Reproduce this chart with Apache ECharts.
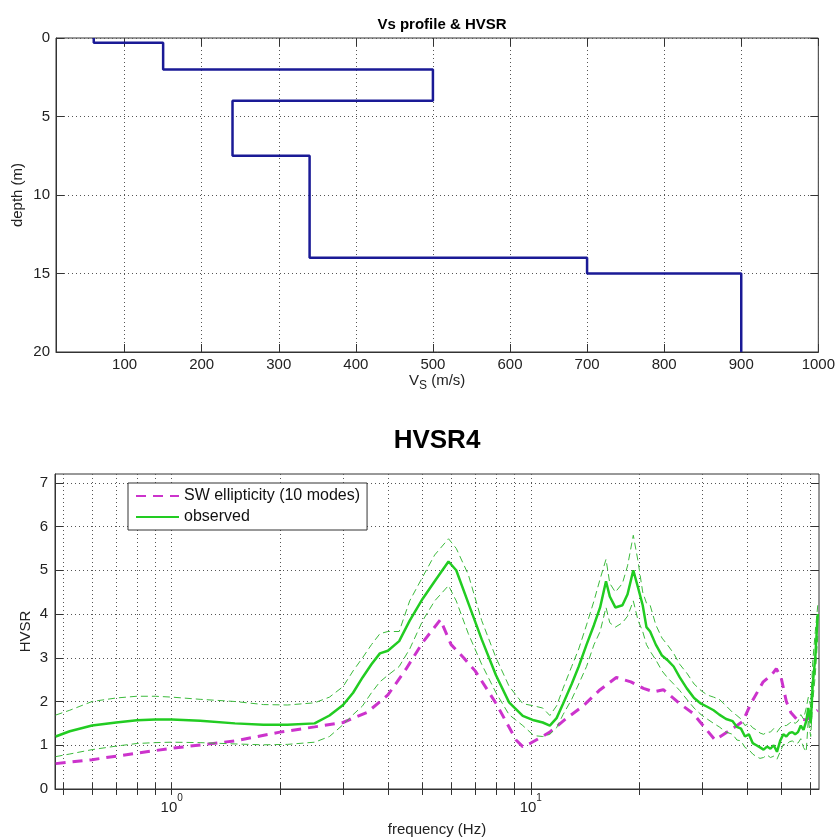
<!DOCTYPE html>
<html>
<head>
<meta charset="utf-8">
<title>Vs profile & HVSR</title>
<script src="https://cdn.jsdelivr.net/npm/echarts@6/dist/echarts.min.js"></script>
<style>
    html, body { margin: 0; padding: 0; background: #fff; }
    #main { width: 838px; height: 839px; }
</style>
</head>
<body>
<div id="main"></div>
<script>
// 速度剖面：每层的Vs和层顶深度
const vsLayers = [60, 150, 500, 240, 340, 700, 900];
const layerTops = [0, 0.3, 2, 4, 7.5, 14, 15];
const maxDepth = 20;
const vsTicks = [100, 200, 300, 400, 500, 600, 700, 800, 900, 1000];
const depthTicks = [0, 5, 10, 15, 20];

// 理论椭圆率 (SW ellipticity)
const ellipFreq = [0.475, 0.6, 0.8, 1.0, 1.5, 2.0, 2.5, 3.0, 3.5, 4.0, 4.5, 5.0, 5.6, 6.0, 6.5, 7.0, 8.0, 9.1, 9.5, 10.0,
    11.3, 12.5, 14.0, 15.5, 17.3, 19.0, 20.6, 22.0, 23.4, 26.0, 28.3, 32.6, 36.0, 39.0, 41.0, 44.4, 47.0, 48.3, 49.8,
    51.5, 53.0, 55.0, 58.6, 63.0];
const ellipHvsr = [0.58, 0.67, 0.82, 0.93, 1.1, 1.3, 1.42, 1.52, 1.75, 2.15, 2.75, 3.35, 3.87, 3.3, 3.0, 2.7, 1.96, 1.12, 0.97, 1.05,
    1.3, 1.6, 1.9, 2.25, 2.55, 2.45, 2.3, 2.22, 2.27, 1.95, 1.73, 1.12, 1.35, 1.55, 1.95, 2.45, 2.62, 2.75, 2.55,
    2.0, 1.75, 1.6, 1.58, 1.8];

// 实测HVSR：平均值及上下包络
const obsFreq = [0.475, 0.52, 0.6, 0.7, 0.8, 0.9, 1.0, 1.2, 1.5, 1.8, 2.1, 2.5, 2.75, 3.0, 3.2, 3.4, 3.6, 3.8, 4.0, 4.3,
    4.6, 5.0, 5.4, 5.9, 6.2, 6.7, 7.3, 8.0, 8.7, 9.5, 10.2, 10.8, 11.3, 11.8, 12.3, 13.0, 13.6, 14.3, 15.0, 15.6,
    16.2, 16.6, 17.2, 18.0, 18.6, 19.3, 19.9, 20.5, 21.0, 21.5, 22.3, 23.2, 24.0, 25.0, 26.0, 27.2, 28.5, 29.8, 31.0, 32.3,
    33.5, 35.0, 36.5, 37.5, 38.5, 39.5, 40.5, 41.5, 42.5, 43.5, 44.5, 45.5, 46.5, 47.5, 48.5, 49.5, 50.5, 51.5, 52.5, 53.5,
    54.5, 55.5, 56.5, 57.5, 58.5, 59.3, 60.2, 61.0, 62.0, 63.0];
const obsMean = [1.2, 1.32, 1.45, 1.52, 1.57, 1.59, 1.59, 1.56, 1.5, 1.47, 1.47, 1.5, 1.68, 1.92, 2.2, 2.55, 2.85, 3.1, 3.16, 3.38,
    3.85, 4.35, 4.75, 5.2, 5.0, 4.25, 3.42, 2.6, 1.98, 1.67, 1.57, 1.52, 1.45, 1.62, 1.95, 2.4, 2.8, 3.3, 3.75, 4.15,
    4.75, 4.4, 4.15, 4.2, 4.45, 5.0, 4.6, 4.2, 3.7, 3.6, 3.3, 3.05, 2.95, 2.8, 2.55, 2.3, 2.08, 1.95, 1.88, 1.8,
    1.7, 1.6, 1.55, 1.42, 1.38, 1.2, 1.25, 1.05, 1.0, 0.95, 0.9, 0.97, 0.92, 1.0, 0.85, 1.1, 1.25, 1.2, 1.28, 1.3,
    1.25, 1.3, 1.45, 1.35, 1.55, 1.85, 1.5, 2.4, 3.0, 4.0];
const obsUpper = [1.69, 1.8, 2.0, 2.08, 2.12, 2.12, 2.1, 2.05, 2.0, 1.93, 1.92, 1.97, 2.1, 2.34, 2.7, 3.0, 3.3, 3.55, 3.6, 3.6,
    4.3, 4.85, 5.35, 5.72, 5.5, 4.9, 3.85, 3.0, 2.35, 1.95, 1.9, 1.85, 1.68, 1.9, 2.3, 2.8, 3.2, 3.75, 4.3, 4.8,
    5.25, 4.7, 4.5, 4.7, 5.1, 5.8, 5.2, 4.5, 4.25, 4.2, 3.75, 3.45, 3.3, 3.1, 2.85, 2.65, 2.4, 2.25, 2.15, 2.1,
    2.05, 1.9, 1.75, 1.68, 1.6, 1.45, 1.5, 1.4, 1.35, 1.28, 1.25, 1.3, 1.3, 1.38, 1.3, 1.4, 1.45, 1.45, 1.5, 1.55,
    1.5, 1.55, 1.7, 1.6, 1.85, 2.1, 1.9, 2.9, 3.6, 4.2];
const obsLower = [0.74, 0.8, 0.9, 0.98, 1.04, 1.06, 1.07, 1.06, 1.03, 1.01, 1.02, 1.07, 1.2, 1.47, 1.7, 1.9, 2.2, 2.45, 2.6, 2.8,
    3.2, 3.85, 4.3, 4.65, 4.3, 3.55, 2.85, 2.2, 1.7, 1.45, 1.22, 1.2, 1.25, 1.4, 1.7, 2.05, 2.4, 2.8, 3.3, 3.6,
    4.15, 3.8, 3.7, 3.8, 3.95, 4.3, 3.85, 3.6, 3.3, 3.15, 2.95, 2.7, 2.55, 2.4, 2.25, 2.05, 1.85, 1.7, 1.6, 1.5,
    1.42, 1.3, 1.25, 1.12, 1.1, 0.95, 0.9, 0.8, 0.74, 0.7, 0.72, 0.78, 0.72, 0.75, 0.68, 0.85, 1.02, 1.0, 1.08, 1.1,
    1.05, 1.05, 1.15, 0.95, 0.85, 1.6, 1.2, 2.0, 2.6, 3.5];

// 对数轴刻度
const freqTicks = [0.5, 0.6, 0.7, 0.8, 0.9, 1, 2, 3, 4, 5, 6, 7, 8, 9, 10, 20, 30, 40, 50, 60];
const freqLabels = [1, 10];
const hvsrTicks = [0, 1, 2, 3, 4, 5, 6, 7];

const FONT = "'Liberation Sans', Arial, sans-serif";
const GRID_LINE = { show: true, lineStyle: { color: '#555', type: [1, 3], width: 1 } };

// 阶梯状的Vs剖面点
function buildProfile() {
    const pts = [];
    vsLayers.forEach(function (vs, i) {
        const bottom = i + 1 < layerTops.length ? layerTops[i + 1] : maxDepth;
        pts.push([vs, layerTops[i]]);
        pts.push([vs, bottom]);
    });
    return pts;
}

function pairs(xs, ys) {
    return xs.map(function (x, i) { return [x, ys[i]]; });
}

function mirrorAxis(base, extra) {
    return Object.assign({
        axisLine: { show: false },
        axisLabel: { show: false },
        splitLine: { show: false }
    }, base, extra);
}

function initChart() {
    const chartDom = document.getElementById('main');
    const myChart = echarts.init(chartDom, null, { renderer: 'canvas' });

    const vsX = {
        type: 'value', gridIndex: 0, min: 11, max: 1000,
        axisTick: { inside: true, length: 8, customValues: vsTicks, lineStyle: { color: '#333' } }
    };
    const depthY = {
        type: 'value', gridIndex: 0, min: 0, max: maxDepth, inverse: true,
        axisTick: { inside: true, length: 8, customValues: depthTicks, lineStyle: { color: '#333' } }
    };
    const freqX = {
        type: 'log', logBase: 10, gridIndex: 1, min: 0.473, max: 63.5,
        axisTick: { inside: true, length: 6, customValues: freqTicks, lineStyle: { color: '#333' } }
    };
    const hvsrY = {
        type: 'value', gridIndex: 1, min: 0, max: 7.2,
        axisTick: { inside: true, length: 8, customValues: hvsrTicks, lineStyle: { color: '#333' } }
    };

    const option = {
        animation: false,
        backgroundColor: '#fff',
        textStyle: { fontFamily: FONT },
        title: [
            { text: 'Vs profile & HVSR', left: 437, textAlign: 'center', top: 12,
              textStyle: { fontFamily: FONT, fontSize: 15, fontWeight: 'bold', color: '#000' } },
            { text: 'HVSR4', left: 432, textAlign: 'center', top: 423,
              textStyle: { fontFamily: FONT, fontSize: 26, fontWeight: 'bold', color: '#000' } }
        ],
        legend: {
            left: 128, top: 483, orient: 'vertical',
            data: ['SW ellipticity (10 modes)', 'observed'],
            backgroundColor: '#fff', borderColor: '#333', borderWidth: 1,
            padding: [4, 7, 4, 7], itemGap: 3, itemWidth: 43, itemHeight: 14,
            itemStyle: { opacity: 0 },
            textStyle: { fontFamily: FONT, fontSize: 16, color: '#111', lineHeight: 18 }
        },
        grid: [
            { left: 56, right: 19, top: 38, height: 314, show: true, borderColor: '#333', borderWidth: 1 },
            { left: 55, right: 19, top: 474, height: 315, show: true, borderColor: '#333', borderWidth: 1 }
        ],
        xAxis: [
            Object.assign({}, vsX, {
                name: 'V{sub|S} (m/s)', nameLocation: 'middle', nameGap: 18, nameMoveOverlap: false,
                nameTextStyle: { fontFamily: FONT, fontSize: 15, color: '#222', lineHeight: 22, verticalAlign: 'top',
                    rich: { sub: { fontFamily: FONT, fontSize: 12, color: '#222', lineHeight: 10, verticalAlign: 'bottom' } } },
                axisLine: { show: true, onZero: false, lineStyle: { color: '#333' } },
                axisLabel: { customValues: vsTicks, margin: 5, fontFamily: FONT, fontSize: 15, color: '#222',
                    formatter: function (v) { return String(v); } },
                splitLine: GRID_LINE
            }),
            mirrorAxis(vsX, { position: 'top' }),
            Object.assign({}, freqX, {
                name: 'frequency (Hz)', nameLocation: 'middle', nameGap: 33, nameMoveOverlap: false,
                nameTextStyle: { fontFamily: FONT, fontSize: 15, color: '#222' },
                axisLine: { show: true, onZero: false, lineStyle: { color: '#333' } },
                axisLabel: {
                    customValues: freqLabels, margin: 4,
                    formatter: function (v) { return '{b|10}{sup|' + Math.round(Math.log10(v)) + '}'; },
                    rich: {
                        b: { fontFamily: FONT, fontSize: 15, color: '#222', lineHeight: 22, verticalAlign: 'bottom' },
                        sup: { fontFamily: FONT, fontSize: 10, color: '#222', lineHeight: 10, verticalAlign: 'top' }
                    }
                },
                splitLine: GRID_LINE
            }),
            mirrorAxis(freqX, { position: 'top' })
        ],
        yAxis: [
            Object.assign({}, depthY, {
                name: 'depth (m)', nameLocation: 'middle', nameGap: 31, nameMoveOverlap: false,
                nameTextStyle: { fontFamily: FONT, fontSize: 15, color: '#222' },
                axisLine: { show: true, onZero: false, lineStyle: { color: '#333' } },
                axisLabel: { customValues: depthTicks, margin: 6, fontFamily: FONT, fontSize: 15, color: '#222' },
                splitLine: GRID_LINE
            }),
            mirrorAxis(depthY, { position: 'right' }),
            Object.assign({}, hvsrY, {
                name: 'HVSR', nameLocation: 'middle', nameGap: 22, nameMoveOverlap: false,
                nameTextStyle: { fontFamily: FONT, fontSize: 15, color: '#222' },
                axisLine: { show: true, onZero: false, lineStyle: { color: '#333' } },
                axisLabel: { customValues: hvsrTicks, margin: 7, fontFamily: FONT, fontSize: 15, color: '#222' },
                splitLine: GRID_LINE
            }),
            mirrorAxis(hvsrY, { position: 'right' })
        ],
        series: [
            {
                name: 'Vs', type: 'line', xAxisIndex: 0, yAxisIndex: 0,
                data: buildProfile(), symbol: 'none', silent: true,
                lineStyle: { color: '#1a1a96', width: 2.5 }
            },
            {
                name: 'SW ellipticity (10 modes)', type: 'line', xAxisIndex: 2, yAxisIndex: 2,
                data: pairs(ellipFreq, ellipHvsr), symbol: 'none',
                itemStyle: { color: '#cc33cc' },
                lineStyle: { color: '#cc33cc', width: 3, type: [10, 7] }
            },
            {
                name: 'upper', type: 'line', xAxisIndex: 2, yAxisIndex: 2,
                data: pairs(obsFreq, obsUpper), symbol: 'none',
                lineStyle: { color: '#3cbb3c', width: 1, type: [7, 4] }
            },
            {
                name: 'lower', type: 'line', xAxisIndex: 2, yAxisIndex: 2,
                data: pairs(obsFreq, obsLower), symbol: 'none',
                lineStyle: { color: '#3cbb3c', width: 1, type: [7, 4] }
            },
            {
                name: 'observed', type: 'line', xAxisIndex: 2, yAxisIndex: 2,
                data: pairs(obsFreq, obsMean), symbol: 'none',
                itemStyle: { color: '#22cc22' },
                lineStyle: { color: '#22cc22', width: 2.5 }
            }
        ]
    };

    myChart.setOption(option);

    window.addEventListener('resize', function () {
        myChart.resize();
    });
}

document.addEventListener('DOMContentLoaded', initChart);
</script>
</body>
</html>
